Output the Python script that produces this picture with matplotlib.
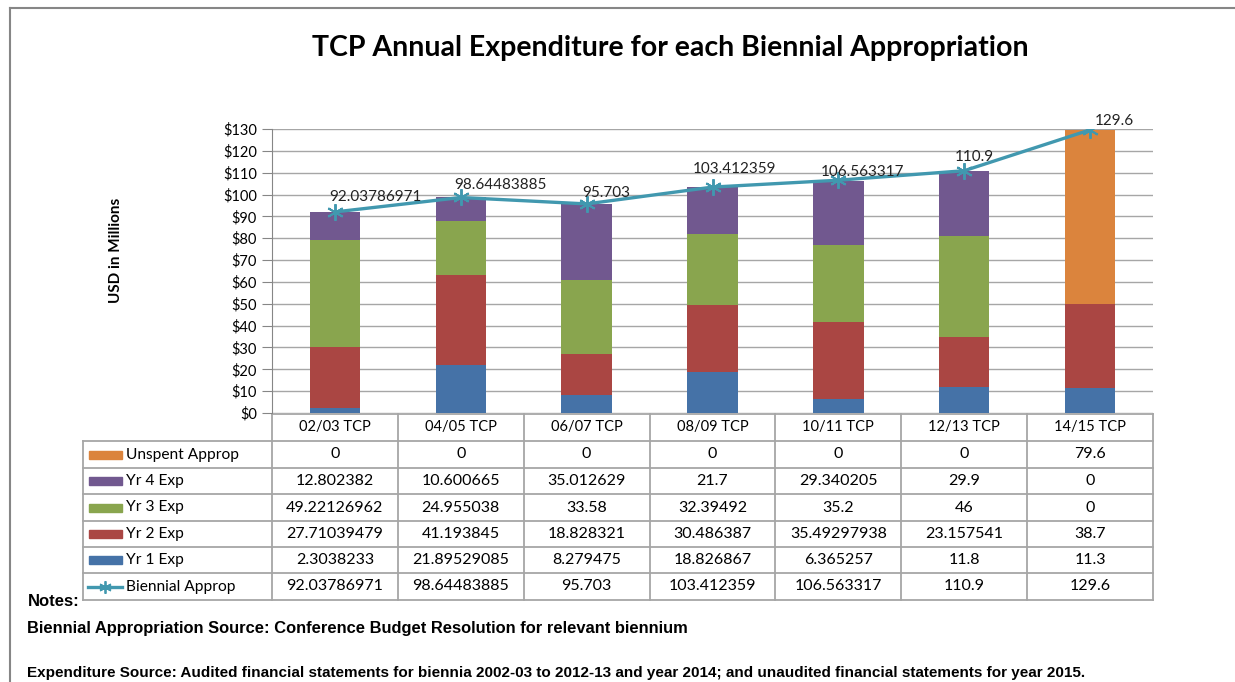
import numpy as np
import matplotlib.pyplot as plt
from matplotlib.patches import Rectangle
from matplotlib.lines import Line2D

## Data (USD in millions)
categories = ['02/03 TCP', '04/05 TCP', '06/07 TCP', '08/09 TCP', '10/11 TCP', '12/13 TCP', '14/15 TCP']
yr1_exp = [2.3038233, 21.89529085, 8.279475, 18.826867, 6.365257, 11.8, 11.3]
yr2_exp = [27.71039479, 41.193845, 18.828321, 30.486387, 35.49297938, 23.157541, 38.7]
yr3_exp = [49.22126962, 24.955038, 33.58, 32.39492, 35.2, 46, 0]
yr4_exp = [12.802382, 10.600665, 35.012629, 21.7, 29.340205, 29.9, 0]
unspent = [0, 0, 0, 0, 0, 0, 79.6]
biennial = [92.03786971, 98.64483885, 95.703, 103.412359, 106.563317, 110.9, 129.6]
yticks = np.arange(0, 140, 10)

# colours (Excel 2007 style)
c_yr1 = '#4572A7'
c_yr2 = '#AA4643'
c_yr3 = '#89A54E'
c_yr4 = '#71588F'
c_uns = '#DB843D'
c_line = '#4198AF'
c_grid = '#A6A6A6'

W, H = 1235, 682
font = 'Lato'

fig = plt.figure(figsize=(W/100, H/100), dpi=100)

# background layer in pixel coordinates (table, notes, frame)
bg = fig.add_axes([0, 0, 1, 1])
bg.set_xlim(0, W)
bg.set_ylim(H, 0)
bg.axis('off')

# chart area
ax_left, ax_right, ax_top, ax_bot = 272, 1153, 129, 413
ax = fig.add_axes([ax_left/W, 1-ax_bot/H, (ax_right-ax_left)/W, (ax_bot-ax_top)/H])
x = np.arange(len(categories))
bw = 0.4
series = [(yr1_exp, c_yr1), (yr2_exp, c_yr2), (yr3_exp, c_yr3), (yr4_exp, c_yr4), (unspent, c_uns)]
bottom = np.zeros(len(categories))
for vals, col in series:
    ax.bar(x, vals, bw, bottom=bottom, color=col, zorder=2)
    bottom += np.array(vals)

ax.plot(x, biennial, color=c_line, lw=2.4, marker=(6, 2, 0), ms=12, mew=1.4, zorder=3)

# data labels (nudged like the original)
label_dx = [41, 40, 20, 22, 24, 10, 24]
label_dy = [15, 12, 11, 18, 8, 14, 9]
for i, v in enumerate(biennial):
    ax.annotate(f'{v:.10g}', (x[i], v), xytext=(label_dx[i], label_dy[i]),
                textcoords='offset pixels', ha='center', va='center',
                fontsize=11, family=font, color='#222222', zorder=4)

ax.set_xlim(-0.5, len(categories)-0.5)
ax.set_ylim(0, 130)
ax.set_yticks(yticks)
ax.set_yticklabels([f'${t}' for t in yticks], family=font, fontsize=10.5)
ax.set_xticks([])
ax.yaxis.grid(True, color=c_grid, lw=1, zorder=0)
ax.set_axisbelow(True)
for s in ['top', 'right', 'bottom']:
    ax.spines[s].set_visible(False)
ax.spines['left'].set_color('#868686')
ax.tick_params(axis='y', length=7, color='#868686', pad=4)
ax.patch.set_alpha(0)

bg.text(116, 250, 'USD in Millions', rotation=90, ha='center', va='center',
        family=font, fontweight='bold', fontsize=11)

# title
bg.text(670, 48, 'TCP Annual Expenditure for each Biennial Appropriation', ha='center', va='center',
        family=font, fontweight='bold', fontsize=20.5)

# data table
ncol = len(categories)
col_edges = [ax_left + i*(ax_right-ax_left)/ncol for i in range(ncol+1)]
row_edges = [414, 441, 468, 494, 521, 547, 573, 600]
tab_left = 83
lc = '#A6A6A6'
lw = 1.3
bg.plot([ax_left, ax_right], [row_edges[0]]*2, color=lc, lw=lw)
for e in row_edges[1:]:
    bg.plot([tab_left, ax_right], [e, e], color=lc, lw=lw)
for e in col_edges:
    bg.plot([e, e], [row_edges[0], row_edges[-1]], color=lc, lw=lw)
bg.plot([tab_left, tab_left], [row_edges[1], row_edges[-1]], color=lc, lw=lw)

for i, c in enumerate(categories):
    cx = (col_edges[i] + col_edges[i+1]) / 2
    bg.text(cx, (row_edges[0]+row_edges[1])/2, c, ha='center', va='center', family=font, fontsize=10.5)

rows = [('Unspent Approp', unspent, c_uns), ('Yr 4 Exp', yr4_exp, c_yr4), ('Yr 3 Exp', yr3_exp, c_yr3),
        ('Yr 2 Exp', yr2_exp, c_yr2), ('Yr 1 Exp', yr1_exp, c_yr1), ('Biennial Approp', biennial, None)]
for r, (name, vals, col) in enumerate(rows):
    cy = (row_edges[r+1] + row_edges[r+2]) / 2
    if col is None:
        bg.add_line(Line2D([88, 122], [cy, cy], color=c_line, lw=2.4))
        bg.add_line(Line2D([105], [cy], color=c_line, marker=(6, 2, 0), ms=9, mew=1.3))
    else:
        bg.add_patch(Rectangle((89, cy-4), 33, 8, color=col))
    bg.text(126, cy, name, ha='left', va='center', family=font, fontsize=11.2)
    for i, v in enumerate(vals):
        cx = (col_edges[i] + col_edges[i+1]) / 2
        bg.text(cx, cy, f'{v:.10g}', ha='center', va='center', family=font, fontsize=11.5)

# notes
nf = 'Liberation Sans'
bg.text(28, 602, 'Notes:', ha='left', va='center', family=nf, fontweight='bold', fontsize=12)
bg.text(27, 628, 'Biennial Appropriation Source: Conference Budget Resolution for relevant biennium',
        ha='left', va='center', family=nf, fontweight='bold', fontsize=11.9)
bg.text(27, 673, 'Expenditure Source: Audited financial statements for biennia 2002-03 to 2012-13 and year 2014; '
        'and unaudited financial statements for year 2015.',
        ha='left', va='center', family=nf, fontweight='bold', fontsize=11)

# outer frame
bg.plot([10, 10], [8, H], color='#868686', lw=1.5)
bg.plot([10, W], [8, 8], color='#868686', lw=1.5)

fig.savefig('out.png', dpi=100)
